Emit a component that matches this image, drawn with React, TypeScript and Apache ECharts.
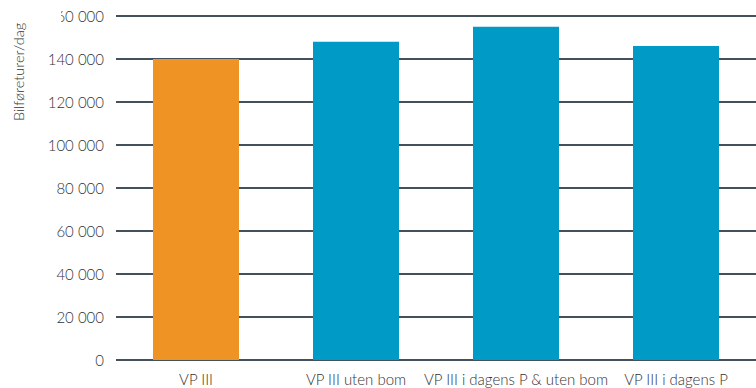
import React, { useEffect, useRef } from "react";
import * as echarts from "echarts";

const categories = ["VP III", "VP III uten bom", "VP III i dagens P & uten bom", "VP III i dagens P"];
const values = [140000, 148000, 155000, 146000];
const barColors = ["#EE9324", "#009AC6", "#009AC6", "#009AC6"];
const yTicks = [0, 20000, 40000, 60000, 80000, 100000, 120000, 140000, 160000];
const yAxisTitle = "Bilføreturer/dag";

const fmt = (v: number) => (v === 0 ? "0" : `${Math.floor(v / 1000)} ${String(v % 1000).padStart(3, "0")}`);

export default function App() {
  const ref = useRef<HTMLDivElement>(null);
  useEffect(() => {
    document.body.style.margin = "0";
    const chart = echarts.init(ref.current!, null, { renderer: "svg" });
    chart.setOption({
      animation: false,
      grid: { left: 116, top: 16, width: 646, height: 344, containLabel: false },
      xAxis: {
        type: "category",
        data: categories,
        axisLine: { show: false },
        axisTick: { show: false },
        axisLabel: { interval: 0, color: "#333", fontFamily: "Lato", fontWeight: 300, fontSize: 15, margin: 11 },
      },
      yAxis: {
        type: "value",
        min: yTicks[0],
        max: yTicks[yTicks.length - 1],
        interval: 20000,
        axisLine: { show: false },
        axisTick: { show: false },
        axisLabel: { color: "#333", fontFamily: "Lato", fontWeight: 300, fontSize: 15, margin: 12, formatter: (v: number) => fmt(v) },
        splitLine: { lineStyle: { color: "#42515b", width: 2 } },
      },
      graphic: [
        {
          type: "rect",
          z: 100,
          shape: { x: 36, y: 4, width: 25, height: 24 },
          style: { fill: "#fff" },
        },
        {
          type: "text",
          x: 18,
          y: 72,
          rotation: Math.PI / 2,
          style: { text: yAxisTitle, fill: "#333", font: "300 14.5px Lato", textAlign: "center", textVerticalAlign: "middle" },
        },
      ],
      series: [
        {
          type: "bar",
          barWidth: 86,
          data: values.map((v, i) => ({ value: v, itemStyle: { color: barColors[i] } })),
        },
      ],
    });
    return () => chart.dispose();
  }, []);
  return <div ref={ref} style={{ width: 756, height: 388 }} />;
}
